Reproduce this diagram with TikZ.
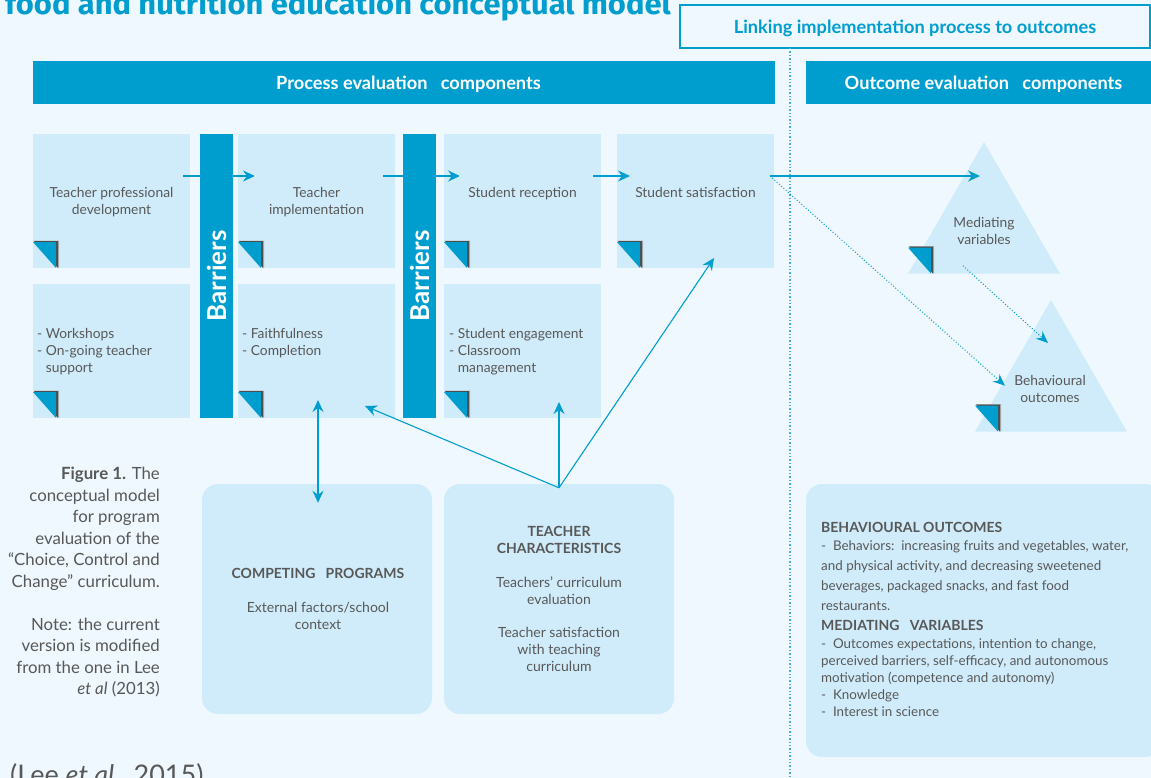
\documentclass[tikz,border=0pt]{standalone}
\usepackage{fontspec}
\setmainfont{Lato}
\newfontfamily\headfont[FakeStretch=1.03]{Fira Sans}
\usetikzlibrary{shapes,arrows.meta,positioning,calc}

% folded corner in the lower left of each card
\tikzset{
  fold/.pic={
    \fill[black!30] (0.5,-27.5) -- (26,-27.5) -- (26,0) -- cycle;
    \fill[black!70] (1,-27) -- (25,-27) -- (25,0) -- cycle;
    \fill[barblue] (0,-26) -- (23,-26) -- (23,0) -- cycle;
  }
}

\begin{document}
\begin{tikzpicture}[x=1pt,y=-1pt,
    box/.style={fill=boxfill, minimum width=157pt, minimum height=134pt, inner sep=0pt, outer sep=0pt},
    bar/.style={fill=barblue, minimum width=33pt, minimum height=284pt, inner sep=0pt, outer sep=0pt},
    bartxt/.style={text=white, font=\fontsize{26}{28}\selectfont\bfseries, inner sep=0pt},
    hdr/.style={fill=barblue, minimum height=43pt, inner sep=0pt, text depth=0pt, text=white, font=\fontsize{18.2}{22}\selectfont\bfseries},
    linkbox/.style={draw=barblue, line width=1.3pt, fill=bgblue, minimum width=470pt, minimum height=43pt, text depth=0pt, text=barblue, font=\fontsize{18.2}{22}\selectfont\bfseries},
    card/.style={fill=boxfill, rounded corners=16pt, minimum width=230pt, minimum height=230pt, inner sep=0pt},
    tri/.style={regular polygon, regular polygon sides=3, minimum size=175.5pt, fill=boxfill, inner sep=0pt, outer sep=0pt},
    txt/.style={text=txtgray, font=\fontsize{13.8}{17}\selectfont, inner sep=0pt, align=center},
    ltxt/.style={txt, align=left, anchor=west},
    flow/.style={draw=barblue, line width=1.1pt, -{Stealth[length=12pt,width=11pt,inset=4pt]}},
    both/.style={flow, {Stealth[length=12pt,width=11pt,inset=4pt]}-{Stealth[length=12pt,width=11pt,inset=4pt]}},
    cross/.style={flow, preaction={draw=white, line width=2.6pt, arrows=-}},
    dflow/.style={draw=barblue, dotted, line width=1pt, -{Stealth[length=12pt,width=10pt,inset=4pt]}},
    divline/.style={draw=lineblue, dotted, line width=1.4pt}]
  \definecolor{bgblue}{RGB}{239,248,254}
  \definecolor{boxfill}{RGB}{208,236,250}
  \definecolor{barblue}{RGB}{0,158,206}
  \definecolor{lineblue}{RGB}{70,175,220}
  \definecolor{txtgray}{RGB}{88,88,88}

  \useasboundingbox (0,0) rectangle (1151,778);
  \clip (0,0) rectangle (1151,778);
  \fill[bgblue] (0,0) rectangle (1151,778);

  % title (runs off the top edge)
  \node[text=barblue, font=\headfont\bfseries\fontsize{30}{32}\selectfont, anchor=base west, inner sep=0pt] (title) at (5,15) {food and nutrition education conceptual model};

  % link box and divider
  \node[linkbox] (link) at (915,26.5) {Linking implementation process to outcomes};
  \coordinate (divtop) at (790,48);
  \coordinate (divbot) at (790,778);
  \draw[divline] (divtop) -- (divbot);

  % headers
  \node[hdr, minimum width=742pt] (hproc) at (404,82.5) {\hspace*{9pt}Process evaluation\ \ \ components};
  \node[hdr, minimum width=355pt] (hout) at (983.5,82.5) {Outcome evaluation\ \ \ components};

  % process cards
  \node[box] (b1) at (111.5,201) {};
  \node[box] (b2) at (316.5,201) {};
  \node[box] (b3) at (522.5,201) {};
  \node[box] (b4) at (695.5,201) {};
  \node[box] (b5) at (111.5,351) {};
  \node[box] (b6) at (316.5,351) {};
  \node[box] (b7) at (522.5,351) {};
  \foreach \b in {b1,b2,b3,b4,b5,b6,b7}
    \pic at (\b.south west) {fold};

  % barriers
  \node[bar] (bar1) at (216.5,276) {};
  \node[bar] (bar2) at (419.5,276) {};
  \node[bartxt, rotate=90] (bl1) at (bar1) {Barriers};
  \node[bartxt, rotate=90] (bl2) at (bar2) {Barriers};

  % outcome triangles
  \node[tri] (med) at (984,229.75) {};
  \node[tri] (beh) at (1051,387.75) {};
  \pic at (med.corner 2) {fold};
  \pic at (beh.corner 2) {fold};

  % lower cards
  \node[card] (cmp) at (317,599) {};
  \node[card] (tch) at (559,599) {};
  \node[card, minimum width=355pt, minimum height=273pt] (outc) at (983.5,620.5) {};

  % card texts
  \node[txt] (t1) at (111.5,202) {Teacher professional\\development};
  \node[txt] (t2) at (316.5,202) {Teacher\\implementation};
  \node[txt] (t3) at (522.5,193.5) {Student reception};
  \node[txt] (t4) at (695.5,192.2) {Student satisfaction};
  \node[ltxt] (t5) at (37,351.5) {- Workshops\\- On-going teacher\\\phantom{- }support};
  \node[ltxt] (t6) at (242,343) {- Faithfulness\\- Completion};
  \node[ltxt] (t7) at (449,351.5) {- Student engagement\\- Classroom\\\phantom{- }management};
  \node[txt] (mt) at (984,231) {Mediating\\variables};
  \node[txt] (bt) at (1050,389) {Behavioural\\outcomes};
  \node[txt, font=\fontsize{14}{17}\selectfont] (ct) at (318,598.8) {\textbf{COMPETING\ \ \ PROGRAMS}\\[17pt]External factors/school\\context};
  \node[txt, font=\fontsize{14}{17}\selectfont] (tt) at (559,598.8) {\textbf{TEACHER}\\\textbf{CHARACTERISTICS}\\[17pt]Teachers’ curriculum\\evaluation\\[16pt]Teacher satisfaction\\with teaching\\curriculum};
  \node[txt, align=left, anchor=north west, font=\fontsize{13.4}{17}\selectfont] (ot) at (821,522) {{\fontsize{14}{17}\selectfont\bfseries BEHAVIOURAL OUTCOMES}\\[1pt]
    -\ \ Behaviors:\ \ increasing fruits and vegetables, water,\\[3pt]
    and physical activity, and decreasing sweetened\\[3pt]
    beverages, packaged snacks, and fast food\\[3pt]
    restaurants.\\[3pt]
    {\fontsize{14}{17}\selectfont\bfseries MEDIATING\ \ \ VARIABLES}\\[1pt]
    -\ \ Outcomes expectations, intention to change,\\
    perceived barriers, self-efficacy, and autonomous\\
    motivation (competence and autonomy)\\
    -\ \ Knowledge\\
    -\ \ Interest in science};

  % caption
  \node[txt, align=right, anchor=north east, font=\fontsize{16.8}{21.5}\selectfont] (cap) at (160,467) {\textbf{Figure 1.} The\\conceptual model\\for program\\evaluation of the\\“Choice, Control and\\Change” curriculum.\\[21.5pt]Note: the current\\version is modified\\from the one in Lee\\\textit{et al} (2013)};
  \node[txt, anchor=base west, font=\fontsize{27}{30}\selectfont] (cite) at (10,784) {(Lee \textit{et al.}, 2015)};

  % flow along the top row
  \draw[cross] ([shift={(-7,42)}]b1.north east) -- ([shift={(17,42)}]b2.north west);
  \draw[cross] ([shift={(-12,42)}]b2.north east) -- ([shift={(16,42)}]b3.north west);
  \draw[flow] ([shift={(-8,42)}]b3.north east) -- ([shift={(13,42)}]b4.north west);
  \draw[flow] ([shift={(-4,42)}]b4.north east) -- ([shift={(-4,34)}]med.corner 1);
  \draw[dflow] ([shift={(-4,42)}]b4.north east) -- ([shift={(-46,-2)}]beh.center);
  \draw[dflow] ([shift={(-21,36)}]med.center) -- ([shift={(-3,43)}]beh.corner 1);

  % teacher characteristics links
  \draw[flow] ([yshift=-4pt]tch.north) -- ([shift={(-30,-12)}]b6.south east);
  \draw[flow] ([yshift=-4pt]tch.north) -- ([shift={(-42,-16)}]b7.south east);
  \draw[flow] ([yshift=-4pt]tch.north) -- ([shift={(-60,-10)}]b4.south east);
  \draw[both] ([shift={(1.5,-18)}]b6.south) -- ([shift={(1,19)}]cmp.north);
\end{tikzpicture}
\end{document}
